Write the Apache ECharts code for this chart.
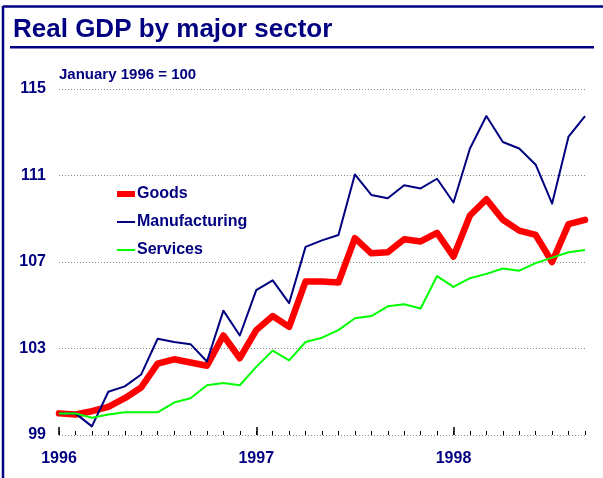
<!DOCTYPE html>
<html>
<head>
<meta charset="utf-8">
<style>
  html, body { margin: 0; padding: 0; background: #fff; }
  #chart { width: 603px; height: 478px; }
</style>
<script src="https://cdn.jsdelivr.net/npm/echarts@6/dist/echarts.min.js"></script>
</head>
<body>
<div id="chart"></div>
<script>
// monthly index, Jan 1996 .. Sep 1998
const months = [
  '1996-01', '1996-02', '1996-03', '1996-04', '1996-05', '1996-06', '1996-07', '1996-08', '1996-09', '1996-10', '1996-11', '1996-12',
  '1997-01', '1997-02', '1997-03', '1997-04', '1997-05', '1997-06', '1997-07', '1997-08', '1997-09', '1997-10', '1997-11', '1997-12',
  '1998-01', '1998-02', '1998-03', '1998-04', '1998-05', '1998-06', '1998-07', '1998-08', '1998-09'
];
const goods = [
  100.0, 99.95, 100.1, 100.3, 100.7, 101.2, 102.3, 102.5, 102.35, 102.2, 103.6, 102.55,
  103.85, 104.5, 104.0, 106.1, 106.1, 106.05, 108.1, 107.4, 107.45, 108.05, 107.95, 108.35,
  107.25, 109.15, 109.9, 108.95, 108.45, 108.25, 107.0, 108.75, 108.95
];
const manufacturing = [
  100.0, 100.0, 99.4, 101.0, 101.25, 101.8, 103.45, 103.3, 103.2, 102.4, 104.75, 103.6,
  105.7, 106.15, 105.1, 107.7, 108.0, 108.25, 111.05, 110.1, 109.95, 110.55, 110.4, 110.85,
  109.75, 112.25, 113.75, 112.55, 112.25, 111.5, 109.7, 112.8, 113.75
];
const services = [
  100.0, 100.0, 99.8, 99.95, 100.05, 100.05, 100.05, 100.5, 100.7, 101.3, 101.4, 101.3,
  102.15, 102.9, 102.45, 103.3, 103.5, 103.85, 104.4, 104.5, 104.95, 105.05, 104.85, 106.35,
  105.85, 106.25, 106.45, 106.7, 106.6, 106.95, 107.2, 107.45, 107.55
];
const yTicks = { min: 99, max: 115, interval: 4 };

const navy = '#000080';
const fontFamily = '"Liberation Sans", Arial, sans-serif';

const chart = echarts.init(document.getElementById('chart'), null, { renderer: 'canvas' });

const option = {
  backgroundColor: '#fff',
  animation: false,
  title: [
    {
      text: 'Real GDP by major sector',
      left: 13,
      top: 17,
      padding: 0,
      textStyle: { color: navy, fontFamily, fontWeight: 'bold', fontSize: 26 }
    },
    {
      text: 'January 1996 = 100',
      left: 59,
      top: 67,
      padding: 0,
      textStyle: { color: navy, fontFamily, fontWeight: 'bold', fontSize: 15 }
    }
  ],
  graphic: [
    // frame (top + left) and title rule
    { type: 'line', shape: { x1: 3, y1: 6.5, x2: 603, y2: 6.5 }, style: { stroke: navy, lineWidth: 2.5 } },
    { type: 'line', shape: { x1: 3, y1: 6, x2: 3, y2: 478 }, style: { stroke: navy, lineWidth: 2.5 } },
    { type: 'line', shape: { x1: 10, y1: 47.3, x2: 594, y2: 47.3 }, style: { stroke: navy, lineWidth: 2.5 } }
  ],
  legend: {
    orient: 'vertical',
    left: 117,
    top: 186,
    padding: 0,
    itemWidth: 18,
    itemHeight: 14,
    itemGap: 12,
    textStyle: { color: navy, fontFamily, fontWeight: 'bold', fontSize: 16, padding: [0, 0, 0, -3] },
    data: [
      { name: 'Goods', icon: 'path://M0,4H18V10H0Z' },
      { name: 'Manufacturing', icon: 'path://M0,6H18V8H0Z' },
      { name: 'Services', icon: 'path://M0,6H18V8H0Z' }
    ]
  },
  grid: { left: 59, right: 18, top: 89, bottom: 43 },
  xAxis: [
    {
      type: 'category',
      data: months,
      boundaryGap: false,
      axisLine: { show: false },
      axisTick: { show: true, inside: true, length: 4, interval: 0, lineStyle: { color: '#000', width: 1 } },
      axisLabel: { show: false },
      splitLine: { show: false }
    },
    {
      type: 'category',
      data: months,
      boundaryGap: false,
      position: 'bottom',
      axisLine: { show: false },
      axisTick: {
        show: true, inside: true, length: 8,
        interval: (i) => i % 12 === 0,
        lineStyle: { color: '#000', width: 1.5 }
      },
      axisLabel: {
        interval: (i) => i % 12 === 0,
        formatter: (v) => v.slice(0, 4),
        margin: 16,
        color: navy, fontFamily, fontWeight: 'bold', fontSize: 16
      },
      splitLine: { show: false }
    }
  ],
  yAxis: {
    type: 'value',
    min: yTicks.min,
    max: yTicks.max,
    interval: yTicks.interval,
    axisLine: { show: false },
    axisTick: { show: false },
    axisLabel: { margin: 13, padding: [4, 0, 0, 0], color: navy, fontFamily, fontWeight: 'bold', fontSize: 16 },
    splitLine: { show: true, lineStyle: { color: '#888', width: 1, type: [1, 2] } }
  },
  series: [
    {
      name: 'Goods', type: 'line', data: goods, symbol: 'none',
      lineStyle: { color: '#ff0000', width: 6.5, cap: 'round', join: 'round' },
      itemStyle: { color: '#ff0000' }
    },
    {
      name: 'Manufacturing', type: 'line', data: manufacturing, symbol: 'none',
      lineStyle: { color: navy, width: 2, join: 'round' },
      itemStyle: { color: navy }
    },
    {
      name: 'Services', type: 'line', data: services, symbol: 'none',
      lineStyle: { color: '#00ff00', width: 2, join: 'round' },
      itemStyle: { color: '#00ff00' }
    }
  ]
};

chart.setOption(option);
</script>
</body>
</html>
